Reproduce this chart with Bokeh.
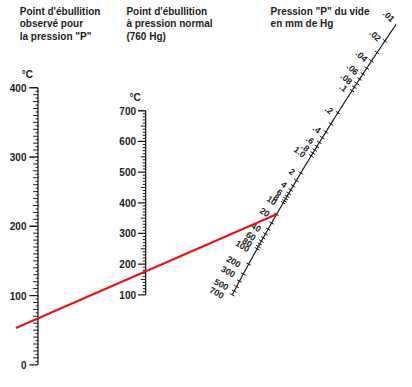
import numpy as np
from bokeh.plotting import figure
from bokeh.models import Range1d
from bokeh.embed import file_html
from bokeh.resources import INLINE
from bokeh.core.properties import value

# ---------------- data ----------------
observed_major = [0, 100, 200, 300, 400]          # °C, left scale
observed_minor = list(range(0, 401, 5))
normal_major = [100, 200, 300, 400, 500, 600, 700]  # °C, middle scale
normal_minor = list(range(100, 701, 10))
pressure_ticks = [0.01, 0.02, 0.03, 0.04, 0.05, 0.06, 0.07, 0.08, 0.09,
                  0.1, 0.2, 0.3, 0.4, 0.5, 0.6, 0.7, 0.8, 0.9,
                  1, 2, 3, 4, 5, 6, 7, 8, 9,
                  10, 20, 30, 40, 50, 60, 70, 80, 90,
                  100, 200, 300, 400, 500, 600, 700]
pressure_label_values = [0.01, 0.02, 0.04, 0.06, 0.08, 0.1, 0.2, 0.4, 0.6, 0.8, 1,
                         2, 4, 6, 8, 10, 20, 40, 60, 80, 100, 200, 300, 500, 700]
pressure_label_texts = [".01", ".02", ".04", ".06", ".08", ".1", ".2", ".4", ".6", ".8", "1.0",
                        "2", "4", "6", "8", "10", "20", "40", "60", "80", "100", "200", "300", "500", "700"]
observed_bp = 67      # °C read at pressure P
pressure_p = 20       # mm Hg

title_left = ["Point d'ébullition", "observé pour", 'la pression "P"']
title_mid = ["Point d'ébullition", "à pression normal", "(760 Hg)"]
title_right = ['Pression "P" du vide', "en mm de Hg"]

# ---------------- layout (reference pixel space 412 x 387) ----------------
W, H = 396, 371
RW, RH = 412.0, 387.0
SX, SY = W / RW, H / RH
INK = "#1c1c1c"
FONT = value("Liberation Sans")

# left scale geometry
L_X = 39.0
L_Y0, L_K = 380.0, (380.0 - 91.0) / 400.0   # ref y of 0 °C, px per °C
# middle scale geometry
M_X = 151.0
M_Y100, M_K = 307.0, 0.32                    # ref y of 100 °C, px per °C

def obs_v(ry):
    return (L_Y0 - ry) / L_K

def norm_v(ry):
    return 100 + (M_Y100 - ry) / M_K

# curved pressure scale: anchor geometry (vertical position per log10 P, curve x(y))
P_ANCHOR_LOG = [-2, -1.699, -1.398, -1, -0.699, -0.398, 0, 0.301, 1, 1.301, 2, 2.301, 2.845]
P_ANCHOR_Y = [22, 42, 63, 94, 117, 137, 162, 180, 211, 223, 259, 275, 307]
C_Y = [22, 63, 95, 119, 163, 181, 212, 222, 260, 277, 307]
C_X = [410, 388, 369, 351, 323, 311, 291, 287, 265, 255, 245]
cx = np.polyfit(C_Y, C_X, 2)

def p_pos(pv):
    lp = np.log10(np.asarray(pv, dtype=float))
    y = np.interp(lp, P_ANCHOR_LOG, P_ANCHOR_Y)
    x = np.polyval(cx, y)
    return x, y

def p_dir(pv):
    # local screen direction of the curve (y down)
    lp = np.log10(np.asarray(pv, dtype=float))
    y = np.interp(lp, P_ANCHOR_LOG, P_ANCHOR_Y)
    dxdy = np.polyval(np.polyder(cx), y)
    dx, dy = dxdy * SX, np.ones_like(y) * SY
    n = np.hypot(dx, dy)
    return dx / n, dy / n

p = figure(width=W, height=H, x_range=Range1d(0, RW), y_range=Range1d(RH, 0),
           output_backend="svg", toolbar_location=None, min_border=0,
           background_fill_color="white", border_fill_color="white")
p.axis.visible = False
p.grid.visible = False
p.outline_line_color = None
p.extra_y_ranges = {
    "obs": Range1d(obs_v(RH), obs_v(0)),
    "norm": Range1d(norm_v(RH), norm_v(0)),
}

FS = "10px"

# ---- titles ----
for x0, lines in ((20, title_left), (131, title_mid), (281, title_right)):
    ys = [11 + 13.5 * i for i in range(len(lines))]
    p.text(x=[x0] * len(lines), y=ys, text=lines, text_font=FONT, text_font_style="bold",
           text_font_size=FS, text_color=INK, text_baseline="middle", text_align="left")

# ---- left scale ----
p.segment(x0=[L_X], y0=[0], x1=[L_X], y1=[400], y_range_name="obs", line_color=INK, line_width=1.3)
mn = [v for v in observed_minor if v not in observed_major]
lens = [5 if v % 10 == 0 else 2.5 for v in mn]
p.segment(x0=[L_X - l for l in lens], y0=mn, x1=[L_X] * len(mn), y1=mn, y_range_name="obs",
          line_color=INK, line_width=1)
p.segment(x0=[L_X - 9] * len(observed_major), y0=observed_major, x1=[L_X] * len(observed_major),
          y1=observed_major, y_range_name="obs", line_color=INK, line_width=1.3)
p.text(x=[L_X - 12] * len(observed_major), y=observed_major, text=[str(v) for v in observed_major],
       y_range_name="obs", text_font=FONT, text_font_style="bold", text_font_size=FS,
       text_color=INK, text_align="right", text_baseline="middle")
p.text(x=[L_X - 11], y=[77], text=["°C"], text_font=FONT, text_font_style="bold",
       text_font_size=FS, text_color=INK, text_align="center", text_baseline="middle")

# ---- middle scale ----
p.segment(x0=[M_X], y0=[100], x1=[M_X], y1=[700], y_range_name="norm", line_color=INK, line_width=1.3)
mn = [v for v in normal_minor if v not in normal_major]
lens = [5 if v % 50 == 0 else 3 for v in mn]
p.segment(x0=[M_X - l for l in lens], y0=mn, x1=[M_X] * len(mn), y1=mn, y_range_name="norm",
          line_color=INK, line_width=1)
p.segment(x0=[M_X - 8] * len(normal_major), y0=normal_major, x1=[M_X] * len(normal_major),
          y1=normal_major, y_range_name="norm", line_color=INK, line_width=1.3)
p.text(x=[M_X - 10] * len(normal_major), y=normal_major, text=[str(v) for v in normal_major],
       y_range_name="norm", text_font=FONT, text_font_style="bold", text_font_size=FS,
       text_color=INK, text_align="right", text_baseline="middle")
p.text(x=[M_X - 11], y=[101], text=["°C"], text_font=FONT, text_font_style="bold",
       text_font_size=FS, text_color=INK, text_align="center", text_baseline="middle")

# ---- pressure scale ----
pc = np.logspace(np.log10(min(pressure_ticks)), np.log10(max(pressure_ticks)), 300)
cxs, cys = p_pos(pc)
p.line(cxs, cys, line_color=INK, line_width=1.2)
tx, ty = p_pos(pressure_ticks)
ux, uy = p_dir(pressure_ticks)
nx, ny = -uy, ux   # perpendicular in screen px
h = 2.6
p.segment(x0=tx - nx * h / SX, y0=ty - ny * h / SY, x1=tx + nx * h / SX, y1=ty + ny * h / SY,
          line_color=INK, line_width=1)

lx, ly = p_pos(pressure_label_values)
ux, uy = p_dir(pressure_label_values)
lp = np.log10(np.asarray(pressure_label_values, dtype=float))
frac = (lp + 2) / 4.845
# label rotation: steeper near the top of the scale, flatter near the bottom
ang = -np.deg2rad(44 - 16 * frac)
off_x = 5.0 + 4.0 * frac        # screen px to the left of the tick
off_y = -1.0 + 2.5 * frac       # screen px (down positive)
p.text(x=lx - off_x / SX, y=ly + off_y / SY, text=pressure_label_texts, angle=ang,
       text_font=FONT, text_font_style="bold", text_font_size="8.8px", text_color=INK,
       text_align="right", text_baseline="middle")

# ---- example reading line ----
ax_y = L_Y0 - L_K * observed_bp
px_p, py_p = p_pos(pressure_p)
slope = (py_p - ax_y) / (px_p - L_X)
x_start = 16
p.line([x_start, float(px_p)], [ax_y + slope * (x_start - L_X), float(py_p)],
       line_color="#e8140f", line_width=2)

open("out.html", "w").write(file_html(p, INLINE))
